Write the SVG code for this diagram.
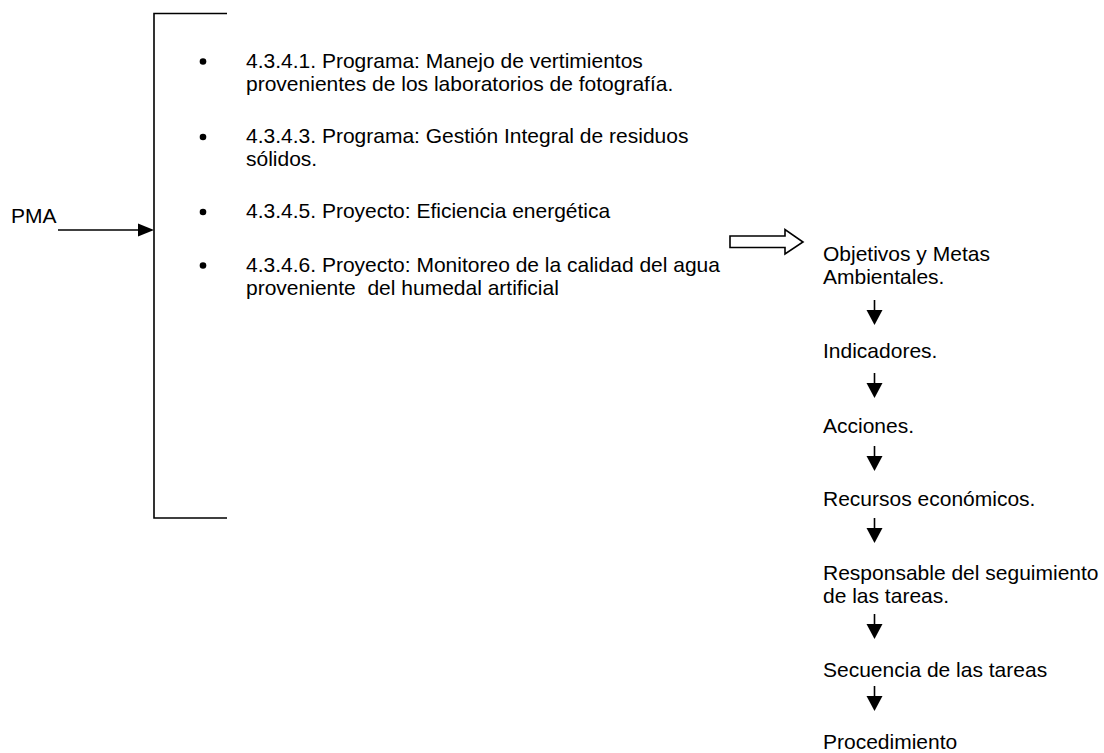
<svg xmlns="http://www.w3.org/2000/svg" width="1104" height="753" viewBox="0 0 1104 753">
  <style>
    text { font-family: "Liberation Sans", Arial, sans-serif; font-size: 21px; fill: #000; }
    .ln { stroke: #000; stroke-width: 1.6; fill: none; }
    .head { fill: #000; stroke: none; }
    .hollow { fill: #fff; stroke: #000; stroke-width: 1.6; stroke-linejoin: miter; }
  </style>
  <rect width="1104" height="753" fill="#fff"/>

  <!-- connectors -->
  <g id="connectors">
    <!-- PMA into the bracket -->
    <line class="ln" x1="58" y1="230" x2="140" y2="230"/>
    <polygon class="head" points="138,223.5 154,230 138,236.5"/>
    <!-- block arrow towards the process chain -->
    <polygon class="hollow" points="730,236 785,236 785,229.5 803,242 785,254 785,247.5 730,247.5"/>
    <!-- downward arrows between steps -->
    <g id="down-arrows">
      <line class="ln" x1="874.5" y1="300" x2="874.5" y2="312"/>
      <polygon class="head" points="866.5,310 882.5,310 874.5,325"/>
      <line class="ln" x1="874.5" y1="373" x2="874.5" y2="385"/>
      <polygon class="head" points="866.5,383 882.5,383 874.5,398"/>
      <line class="ln" x1="874.5" y1="446" x2="874.5" y2="458"/>
      <polygon class="head" points="866.5,456 882.5,456 874.5,471"/>
      <line class="ln" x1="874.5" y1="518" x2="874.5" y2="530"/>
      <polygon class="head" points="866.5,528 882.5,528 874.5,543"/>
      <line class="ln" x1="874.5" y1="614" x2="874.5" y2="626"/>
      <polygon class="head" points="866.5,624 882.5,624 874.5,639"/>
      <line class="ln" x1="874.5" y1="686" x2="874.5" y2="698"/>
      <polygon class="head" points="866.5,696 882.5,696 874.5,711"/>
    </g>
  </g>

  <!-- source label -->
  <g id="pma">
    <text x="11" y="223">PMA</text>
  </g>

  <!-- bracket with the list of programmes and projects -->
  <g id="bracket">
    <polyline class="ln" points="227,13.5 154,13.5 154,518 227,518"/>
  </g>

  <g id="programas">
    <circle cx="203" cy="61.5" r="3.3"/>
    <text x="246" y="67.5">4.3.4.1. Programa: Manejo de vertimientos</text>
    <text x="246" y="90.5">provenientes de los laboratorios de fotografía.</text>

    <circle cx="203" cy="137" r="3.3"/>
    <text x="246" y="143">4.3.4.3. Programa: Gestión Integral de residuos</text>
    <text x="246" y="166">sólidos.</text>

    <circle cx="203" cy="212" r="3.3"/>
    <text x="246" y="218">4.3.4.5. Proyecto: Eficiencia energética</text>

    <circle cx="203" cy="265.5" r="3.3"/>
    <text x="246" y="271.5">4.3.4.6. Proyecto: Monitoreo de la calidad del agua</text>
    <text x="246" y="294.5" xml:space="preserve">proveniente  del humedal artificial</text>
  </g>

  <!-- process chain -->
  <g id="objetivos">
    <text x="823" y="260.5">Objetivos y Metas</text>
    <text x="823" y="284">Ambientales.</text>
  </g>
  <g id="indicadores">
    <text x="823" y="358">Indicadores.</text>
  </g>
  <g id="acciones">
    <text x="823" y="432.5">Acciones.</text>
  </g>
  <g id="recursos">
    <text x="823" y="505.5">Recursos económicos.</text>
  </g>
  <g id="responsable">
    <text x="823" y="580">Responsable del seguimiento</text>
    <text x="823" y="603">de las tareas.</text>
  </g>
  <g id="secuencia">
    <text x="823" y="677">Secuencia de las tareas</text>
  </g>
  <g id="procedimiento">
    <text x="823" y="749">Procedimiento</text>
  </g>
</svg>
